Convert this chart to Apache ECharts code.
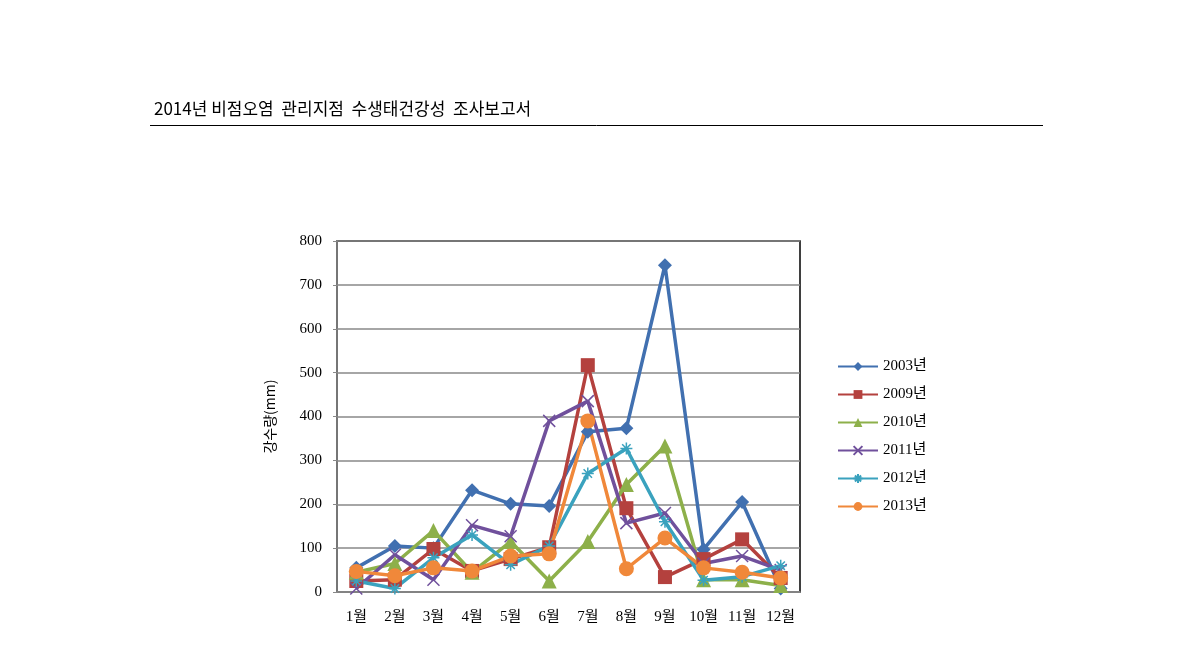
<!DOCTYPE html>
<html>
<head>
<meta charset="utf-8">
<script src="https://cdn.jsdelivr.net/npm/echarts@6/dist/echarts.min.js"></script>
<style>
html,body{margin:0;padding:0;background:#fff;}
#chart{width:1190px;height:655px;}
</style>
</head>
<body>
<div id="chart"></div>
<script>
var months = ['1월','2월','3월','4월','5월','6월','7월','8월','9월','10월','11월','12월'];
var years = ['2003년','2009년','2010년','2011년','2012년','2013년'];
var y2003 = [55, 105, 100, 232, 201, 196, 365, 373, 745, 97, 205, 8];
var y2009 = [25, 28, 98, 48, 75, 102, 517, 191, 34, 75, 120, 32];
var y2010 = [45, 65, 140, 45, 115, 25, 115, 245, 333, 28, 28, 15];
var y2011 = [8, 85, 28, 152, 127, 390, 435, 157, 180, 65, 82, 50];
var y2012 = [25, 8, 78, 130, 62, 105, 270, 327, 160, 27, 35, 60];
var y2013 = [47, 37, 55, 48, 82, 87, 390, 53, 123, 55, 45, 32];

var colors = ['#4170B0', '#B4413E', '#8DB04A', '#70509C', '#3AA2BE', '#F0883A'];
var symbols = [
	'diamond',
	'rect',
	'triangle',
	'path://M0,0L10,10M10,0L0,10', // x 표시
	'path://M0,5L10,5M5,0L5,10M1.5,1.5L8.5,8.5M8.5,1.5L1.5,8.5', // 별표
	'circle'
];
var sizes = [14, 14, 15, 12, 12, 15];
var serif = '"Liberation Serif", "DejaVu Serif", "Noto Sans CJK KR", serif';

(function() {
	var myChart = echarts.init(document.getElementById('chart'));
	var allData = [y2003, y2009, y2010, y2011, y2012, y2013];
	var series = [];
	allData.forEach(function(d, i) {
		var lineSym = i == 3 || i == 4;
		series.push({
			name: years[i],
			type: 'line',
			data: d,
			symbol: symbols[i],
			symbolSize: sizes[i],
			showAllSymbol: true,
			lineStyle: { color: colors[i], width: 3.5 },
			itemStyle: {
				color: colors[i],
				borderColor: colors[i],
				borderWidth: lineSym ? 1.5 : 0
			},
			emphasis: { disabled: true }
		});
	});
	var option = {
		animation: false,
		color: colors,
		title: {
			text: '2014년 비점오염  관리지점  수생태건강성  조사보고서',
			left: 149,
			top: 95,
			textStyle: {
				fontFamily: '"Noto Sans CJK KR", sans-serif',
				fontSize: 17,
				fontWeight: 'normal',
				color: '#000'
			}
		},
		graphic: [{
			type: 'line',
			shape: { x1: 150, y1: 125.5, x2: 1043, y2: 125.5 },
			style: { stroke: '#000', lineWidth: 1 }
		}],
		legend: {
			orient: 'vertical',
			left: 832,
			top: 354,
			itemWidth: 40,
			itemHeight: 11,
			itemGap: 13,
			data: years,
			textStyle: { fontFamily: serif, fontSize: 15, color: '#000' }
		},
		grid: {
			left: 337,
			right: 390,
			top: 241,
			bottom: 63,
			show: true,
			borderColor: '#000',
			borderWidth: 1.5
		},
		xAxis: {
			type: 'category',
			data: months,
			boundaryGap: true,
			axisLine: { lineStyle: { color: '#888', width: 1.5 } },
			axisTick: { show: false },
			axisLabel: {
				fontFamily: serif,
				fontSize: 15,
				color: '#000',
				margin: 18,
				interval: 0
			}
		},
		yAxis: {
			type: 'value',
			min: 0,
			max: 800,
			interval: 100,
			name: '강수량(mm)',
			nameLocation: 'middle',
			nameGap: 60,
			nameTextStyle: { fontFamily: '"Noto Sans CJK KR", serif', fontSize: 14, color: '#000' },
			axisLine: { show: true, lineStyle: { color: '#888', width: 1.5 } },
			axisTick: { show: true, length: 4, lineStyle: { color: '#888' } },
			splitLine: { lineStyle: { color: '#888', width: 1.5 } },
			axisLabel: {
				fontFamily: serif,
				fontSize: 15,
				color: '#000',
				margin: 15
			}
		},
		series: series
	};
	myChart.setOption(option);
})();
</script>
</body>
</html>
